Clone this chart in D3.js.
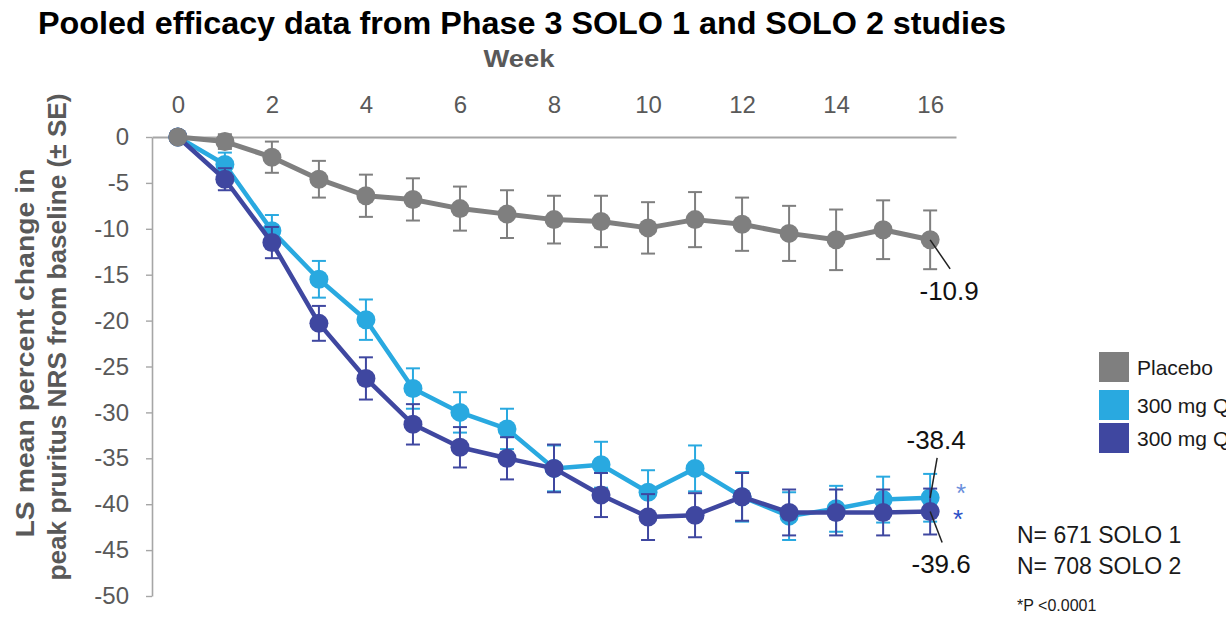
<!DOCTYPE html>
<html>
<head>
<meta charset="utf-8">
<script src="https://cdn.jsdelivr.net/npm/d3@7"></script>
<style>
  html, body { margin: 0; padding: 0; background: #fff; }
  svg { display: block; font-family: "Liberation Sans", Arial, sans-serif; }
</style>
</head>
<body>
<svg id="chart" width="1226" height="618"></svg>
<script>
// valores (semana, média LS e erro padrão)
const semanas = [0, 1, 2, 3, 4, 5, 6, 7, 8, 9, 10, 11, 12, 13, 14, 15, 16];

const placeboMedia = [0, -0.5, -2.2, -4.6, -6.4, -6.8, -7.8, -8.4, -9.0, -9.2, -9.9, -9.0, -9.5, -10.5, -11.2, -10.1, -11.2];
const placeboEP    = [0, 0.8, 1.7, 2.0, 2.3, 2.3, 2.4, 2.6, 2.6, 2.8, 2.8, 3.0, 2.9, 3.0, 3.3, 3.2, 3.2];

const q2wMedia = [0, -3.0, -10.2, -15.5, -19.9, -27.4, -30.0, -31.8, -36.1, -35.7, -38.7, -36.1, -39.2, -41.3, -40.5, -39.5, -39.3];
const q2wEP    = [0, 1.3, 1.7, 2.0, 2.2, 2.2, 2.2, 2.2, 2.5, 2.5, 2.4, 2.5, 2.7, 2.6, 2.5, 2.5, 2.6];

const qwMedia = [0, -4.6, -11.5, -20.3, -26.3, -31.3, -33.8, -35.0, -36.1, -39.0, -41.4, -41.2, -39.2, -40.9, -40.9, -40.9, -40.8];
const qwEP    = [0, 1.2, 1.7, 1.9, 2.3, 2.2, 2.2, 2.3, 2.6, 2.4, 2.5, 2.4, 2.6, 2.5, 2.5, 2.5, 2.5];

const ticksX = [0, 2, 4, 6, 8, 10, 12, 14, 16];
const ticksY = [0, -5, -10, -15, -20, -25, -30, -35, -40, -45, -50];

const nomesSeries = ["Placebo", "300 mg Q2W", "300 mg QW"];
const rotulosFinais = ["-10.9", "-38.4", "-39.6"];
const textosN = ["N= 671 SOLO 1", "N= 708 SOLO 2"];

const cores = { placebo: "#7f7f7f", q2w: "#29a9e0", qw: "#3f47a0" };

const svg = d3.select("#chart");
svg.append("rect").attr("width", 1226).attr("height", 618).attr("fill", "#fff");

const x = d3.scaleLinear().domain([-0.55, 16.55]).range([152, 956]);
const y = d3.scaleLinear().domain([-50, 0]).range([596, 137]);

// título e rótulos dos eixos
svg.append("text")
    .attr("x", 522).attr("y", 34)
    .attr("text-anchor", "middle")
    .attr("font-size", 31).attr("font-weight", "bold").attr("fill", "#000")
    .attr("textLength", 968).attr("lengthAdjust", "spacingAndGlyphs")
    .text("Pooled efficacy data from Phase 3 SOLO 1 and SOLO 2 studies");

svg.append("text")
    .attr("x", 519).attr("y", 67)
    .attr("text-anchor", "middle")
    .attr("font-size", 24).attr("font-weight", "bold").attr("fill", "#595959")
    .attr("textLength", 71).attr("lengthAdjust", "spacingAndGlyphs")
    .text("Week");

svg.append("text")
    .attr("transform", "translate(34,353) rotate(-90)")
    .attr("text-anchor", "middle")
    .attr("font-size", 25).attr("font-weight", "bold").attr("fill", "#595959")
    .attr("textLength", 369).attr("lengthAdjust", "spacingAndGlyphs")
    .text("LS mean percent change in");

svg.append("text")
    .attr("transform", "translate(66,337) rotate(-90)")
    .attr("text-anchor", "middle")
    .attr("font-size", 25).attr("font-weight", "bold").attr("fill", "#595959")
    .attr("textLength", 487).attr("lengthAdjust", "spacingAndGlyphs")
    .text("peak pruritus NRS from baseline (± SE)");

// eixo X no topo
const eixoX = svg.append("g").attr("transform", `translate(0,${y(0)})`)
    .call(d3.axisTop(x).tickValues(ticksX).tickSize(0).tickPadding(24).tickFormat(d => String(d)));
eixoX.select(".domain").attr("stroke", "#a6a6a6").attr("stroke-width", 2.2);
eixoX.selectAll(".tick text").attr("font-size", 24).attr("fill", "#595959")
    .attr("font-family", "Liberation Sans, Arial, sans-serif");

// eixo Y
const eixoY = svg.append("g").attr("transform", `translate(${x.range()[0]},0)`)
    .call(d3.axisLeft(y).tickValues(ticksY).tickSize(6).tickSizeOuter(0).tickPadding(17).tickFormat(d => String(d)));
eixoY.select(".domain").attr("stroke", "#a6a6a6").attr("stroke-width", 1.6);
eixoY.selectAll(".tick line").attr("stroke", "#a6a6a6").attr("stroke-width", 1.4);
eixoY.selectAll(".tick text").attr("font-size", 24).attr("fill", "#595959")
    .attr("font-family", "Liberation Sans, Arial, sans-serif");

// séries
const series = [
    { chave: "q2w", media: q2wMedia, ep: q2wEP, larg: 4.5 },
    { chave: "qw", media: qwMedia, ep: qwEP, larg: 4.5 },
    { chave: "placebo", media: placeboMedia, ep: placeboEP, larg: 5 }
];

const linha = d3.line().x(d => x(d.semana)).y(d => y(d.valor));

series.forEach(s => {
    const pontos = semanas.map((w, i) => ({ semana: w, valor: s.media[i], ep: s.ep[i] }));
    const g = svg.append("g").attr("class", "serie-" + s.chave);
    const cor = cores[s.chave];

    const barras = g.selectAll(".erro")
        .data(pontos.filter(d => d.ep > 0))
        .enter().append("g").attr("class", "erro")
        .attr("stroke", cor).attr("stroke-width", 2);
    barras.append("line")
        .attr("x1", d => x(d.semana)).attr("x2", d => x(d.semana))
        .attr("y1", d => y(d.valor + d.ep)).attr("y2", d => y(d.valor - d.ep));
    barras.append("line")
        .attr("x1", d => x(d.semana) - 7).attr("x2", d => x(d.semana) + 7)
        .attr("y1", d => y(d.valor + d.ep)).attr("y2", d => y(d.valor + d.ep));
    barras.append("line")
        .attr("x1", d => x(d.semana) - 7).attr("x2", d => x(d.semana) + 7)
        .attr("y1", d => y(d.valor - d.ep)).attr("y2", d => y(d.valor - d.ep));

    g.append("path")
        .datum(pontos)
        .attr("d", linha)
        .attr("fill", "none")
        .attr("stroke", cor)
        .attr("stroke-width", s.larg)
        .attr("stroke-linejoin", "round");

    g.selectAll("circle")
        .data(pontos)
        .enter().append("circle")
        .attr("cx", d => x(d.semana))
        .attr("cy", d => y(d.valor))
        .attr("r", 9.5)
        .attr("fill", cor);
});

// rótulos finais com linhas de chamada
const ultima = semanas[semanas.length - 1];
const xf = x(ultima);
const chamadas = [
    { valor: placeboMedia[16], texto: rotulosFinais[0], dx1: 0, dy1: 0, dx2: 20, dy2: 29, tx: 19, ty: 60 },
    { valor: q2wMedia[16], texto: rotulosFinais[1], dx1: 7, dy1: -40, dx2: 0, dy2: 0, tx: 6, ty: -49 },
    { valor: qwMedia[16], texto: rotulosFinais[2], dx1: 0, dy1: 0, dx2: 12, dy2: 31, tx: 11, ty: 61 }
];
chamadas.forEach(c => {
    const yf = y(c.valor);
    svg.append("line")
        .attr("x1", xf + c.dx1).attr("y1", yf + c.dy1)
        .attr("x2", xf + c.dx2).attr("y2", yf + c.dy2)
        .attr("stroke", "#222").attr("stroke-width", 1.5);
    svg.append("text")
        .attr("x", xf + c.tx).attr("y", yf + c.ty)
        .attr("text-anchor", "middle")
        .attr("font-size", 26).attr("fill", "#111")
        .text(c.texto);
});

// asteriscos de significância
svg.append("text").attr("x", xf + 31).attr("y", y(q2wMedia[16]) + 4)
    .attr("text-anchor", "middle").attr("font-size", 26).attr("fill", "#6b8fdc").text("*");
svg.append("text").attr("x", xf + 28).attr("y", y(qwMedia[16]) + 16)
    .attr("text-anchor", "middle").attr("font-size", 26).attr("fill", "#2c4fc6").text("*");

// legenda (o texto sai da borda direita, como no original)
const legenda = svg.append("g").attr("transform", "translate(1099,352)");
const coresLegenda = [cores.placebo, cores.q2w, cores.qw];
nomesSeries.forEach((nome, i) => {
    const yy = [0, 38, 71][i];
    legenda.append("rect")
        .attr("x", 0).attr("y", yy)
        .attr("width", 30).attr("height", 30)
        .attr("fill", coresLegenda[i]);
    legenda.append("text")
        .attr("x", 38).attr("y", yy + 23)
        .attr("font-size", 21).attr("fill", "#1a1a1a")
        .text(nome);
});

// tamanhos das amostras e nota
textosN.forEach((t, i) => {
    svg.append("text")
        .attr("x", 1017).attr("y", 543 + i * 31)
        .attr("font-size", 23).attr("fill", "#1a1a1a")
        .text(t);
});
svg.append("text")
    .attr("x", 1017).attr("y", 611)
    .attr("font-size", 16).attr("fill", "#1a1a1a")
    .text("*P <0.0001");
</script>
</body>
</html>
